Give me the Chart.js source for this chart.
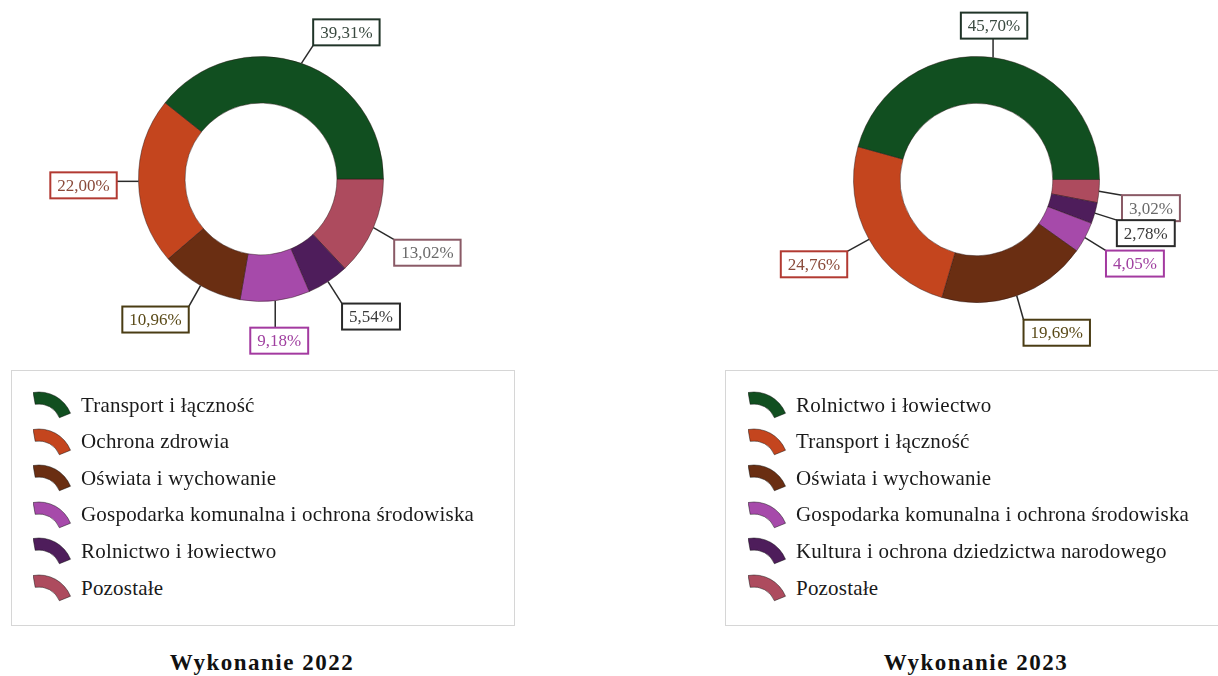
<!DOCTYPE html>
<html lang="pl">
<head>
<meta charset="utf-8">
<script src="https://cdn.jsdelivr.net/npm/chart.js@4"></script>
<style>
  html, body { margin: 0; padding: 0; background: #fff; }
  body { width: 1218px; height: 676px; position: relative; overflow: hidden; font-family: "Liberation Serif", "DejaVu Serif", serif; }
  .chart-box { position: absolute; top: 0; height: 360px; }
  .legend { position: absolute; top: 370px; height: 256px; border: 1px solid #d6d6d6; box-sizing: border-box; }
  .legend-item { position: absolute; display: flex; align-items: center; font-size: 21px; letter-spacing: 0.2px; color: #1a1a1a; }
  .legend-item canvas { margin-right: 6px; }
  .title { position: absolute; top: 650px; font-weight: bold; font-size: 23px; letter-spacing: 1.5px; color: #111; text-align: center; }
</style>
</head>
<body>
<div class="chart-box" style="left:0;width:522px"><canvas id="chart-2022"></canvas></div>
<div class="chart-box" style="left:720px;width:498px"><canvas id="chart-2023"></canvas></div>
<div class="legend" id="legend-2022" style="left:11px;width:504px"></div>
<div class="legend" id="legend-2023" style="left:725px;width:500px"></div>
<div class="title" style="left:0;width:524px">Wykonanie 2022</div>
<div class="title" style="left:720px;width:512px">Wykonanie 2023</div>

<script>
// Dane - wykonanie 2022
const categories2022 = ['Transport i łączność', 'Ochrona zdrowia', 'Oświata i wychowanie',
    'Gospodarka komunalna i ochrona środowiska', 'Rolnictwo i łowiectwo', 'Pozostałe'];
const values2022 = [39.31, 22.00, 10.96, 9.18, 5.54, 13.02];
const labels2022 = ['39,31%', '22,00%', '10,96%', '9,18%', '5,54%', '13,02%'];

// Dane - wykonanie 2023
const categories2023 = ['Rolnictwo i łowiectwo', 'Transport i łączność', 'Oświata i wychowanie',
    'Gospodarka komunalna i ochrona środowiska', 'Kultura i ochrona dziedzictwa narodowego', 'Pozostałe'];
const values2023 = [45.70, 24.76, 19.69, 4.05, 2.78, 3.02];
const labels2023 = ['45,70%', '24,76%', '19,69%', '4,05%', '2,78%', '3,02%'];

// Kolory segmentów (ta sama kolejność w obu wykresach)
const sliceColors = ['#114f20', '#c4451e', '#6a2e12', '#a64aaa', '#4e1d5b', '#ad4b5e'];
const boxBorders = ['#203428', '#b23a32', '#4a3c14', '#a33aa0', '#2a2a2a', '#8a5a66'];
const boxTexts = ['#3a4a40', '#8a4a3a', '#5a4a18', '#a040a0', '#3a3a3a', '#6a6a6a'];

// Przesunięcie etykiet względem środka łuku (px)
const offsets2022 = [[45, -31], [-55, 4], [-45, 34], [4, 40], [43, 35], [54, 25]];
const offsets2023 = [[1, -32], [-55, 25], [40, 37], [50, 26], [51, 20], [52, 17]];

// Plugin rysujący etykiety w ramkach z linią odniesienia
const boxLabelsPlugin = {
    id: 'boxLabels',
    afterDraw(chart, args, opts) {
        const ctx = chart.ctx;
        const meta = chart.getDatasetMeta(0);
        const n = meta.data.length;
        ctx.save();
        ctx.font = '17px "Liberation Serif", serif';
        meta.data.forEach((arc, j) => {
            const i = n - 1 - j; // dane są odwrócone
            const p = arc.getProps(['x', 'y', 'startAngle', 'endAngle', 'outerRadius'], true);
            const mid = (p.startAngle + p.endAngle) / 2;
            const ax = p.x + Math.cos(mid) * p.outerRadius;
            const ay = p.y + Math.sin(mid) * p.outerRadius;
            const cx = ax + opts.offsets[i][0];
            const cy = ay + opts.offsets[i][1];
            const text = opts.labels[i];
            const w = ctx.measureText(text).width + 14;
            const h = 26;
            const left = cx - w / 2, top = cy - h / 2;
            // linia odniesienia do najbliższego punktu ramki
            const lx = Math.min(Math.max(ax, left), left + w);
            const ly = Math.min(Math.max(ay, top), top + h);
            ctx.strokeStyle = '#2a2a2a';
            ctx.lineWidth = 1.5;
            ctx.beginPath();
            ctx.moveTo(ax, ay);
            ctx.lineTo(lx, ly);
            ctx.stroke();
            ctx.fillStyle = '#ffffff';
            ctx.fillRect(left, top, w, h);
            ctx.strokeStyle = boxBorders[i];
            ctx.lineWidth = 2;
            ctx.strokeRect(left, top, w, h);
            ctx.fillStyle = boxTexts[i];
            ctx.textAlign = 'center';
            ctx.textBaseline = 'middle';
            ctx.fillText(text, cx, cy + 1);
        });
        ctx.restore();
    }
};

function makeDonut(id, values, labels, offsets, padding) {
    const ctx = document.getElementById(id);
    // Chart.js rysuje zgodnie z ruchem wskazówek zegara, więc odwracamy kolejność
    const data = values.slice().reverse();
    const colors = sliceColors.slice().reverse();
    return new Chart(ctx, {
        type: 'doughnut',
        data: {
            labels: labels.slice().reverse(),
            datasets: [{
                data: data,
                backgroundColor: colors,
                borderColor: 'rgba(40, 20, 20, 0.45)',
                borderWidth: 1
            }]
        },
        options: {
            responsive: true,
            maintainAspectRatio: false,
            animation: false,
            rotation: 90,
            cutout: '62%',
            layout: { padding: padding },
            plugins: {
                legend: { display: false },
                tooltip: { enabled: false },
                boxLabels: { labels: labels, offsets: offsets }
            }
        },
        plugins: [boxLabelsPlugin]
    });
}

// Ikona legendy w kształcie wycinka pierścienia
function drawIcon(canvas, color) {
    const c = canvas.getContext('2d');
    const cx = 6, cy = 36;
    const a0 = -100 * Math.PI / 180, a1 = -22 * Math.PI / 180;
    c.beginPath();
    c.arc(cx, cy, 34, a0, a1);
    c.arc(cx, cy, 22, a1, a0, true);
    c.closePath();
    c.fillStyle = color;
    c.fill();
    c.strokeStyle = 'rgba(0,0,0,0.45)';
    c.lineWidth = 1;
    c.stroke();
}

function makeLegend(id, categories, iconLeft) {
    const box = document.getElementById(id);
    categories.forEach((name, i) => {
        const item = document.createElement('div');
        item.className = 'legend-item';
        item.style.left = iconLeft + 'px';
        item.style.top = (19 + i * 36.6) + 'px';
        const cv = document.createElement('canvas');
        cv.width = 42; cv.height = 30;
        drawIcon(cv, sliceColors[i]);
        item.appendChild(cv);
        const span = document.createElement('span');
        span.textContent = name;
        item.appendChild(span);
        box.appendChild(item);
    });
}

makeDonut('chart-2022', values2022, labels2022, offsets2022, { left: 138, right: 138, top: 56, bottom: 58 });
makeDonut('chart-2023', values2023, labels2023, offsets2023, { left: 133, right: 118, top: 56, bottom: 57 });
makeLegend('legend-2022', categories2022, 21);
makeLegend('legend-2023', categories2023, 22);
</script>
</body>
</html>
